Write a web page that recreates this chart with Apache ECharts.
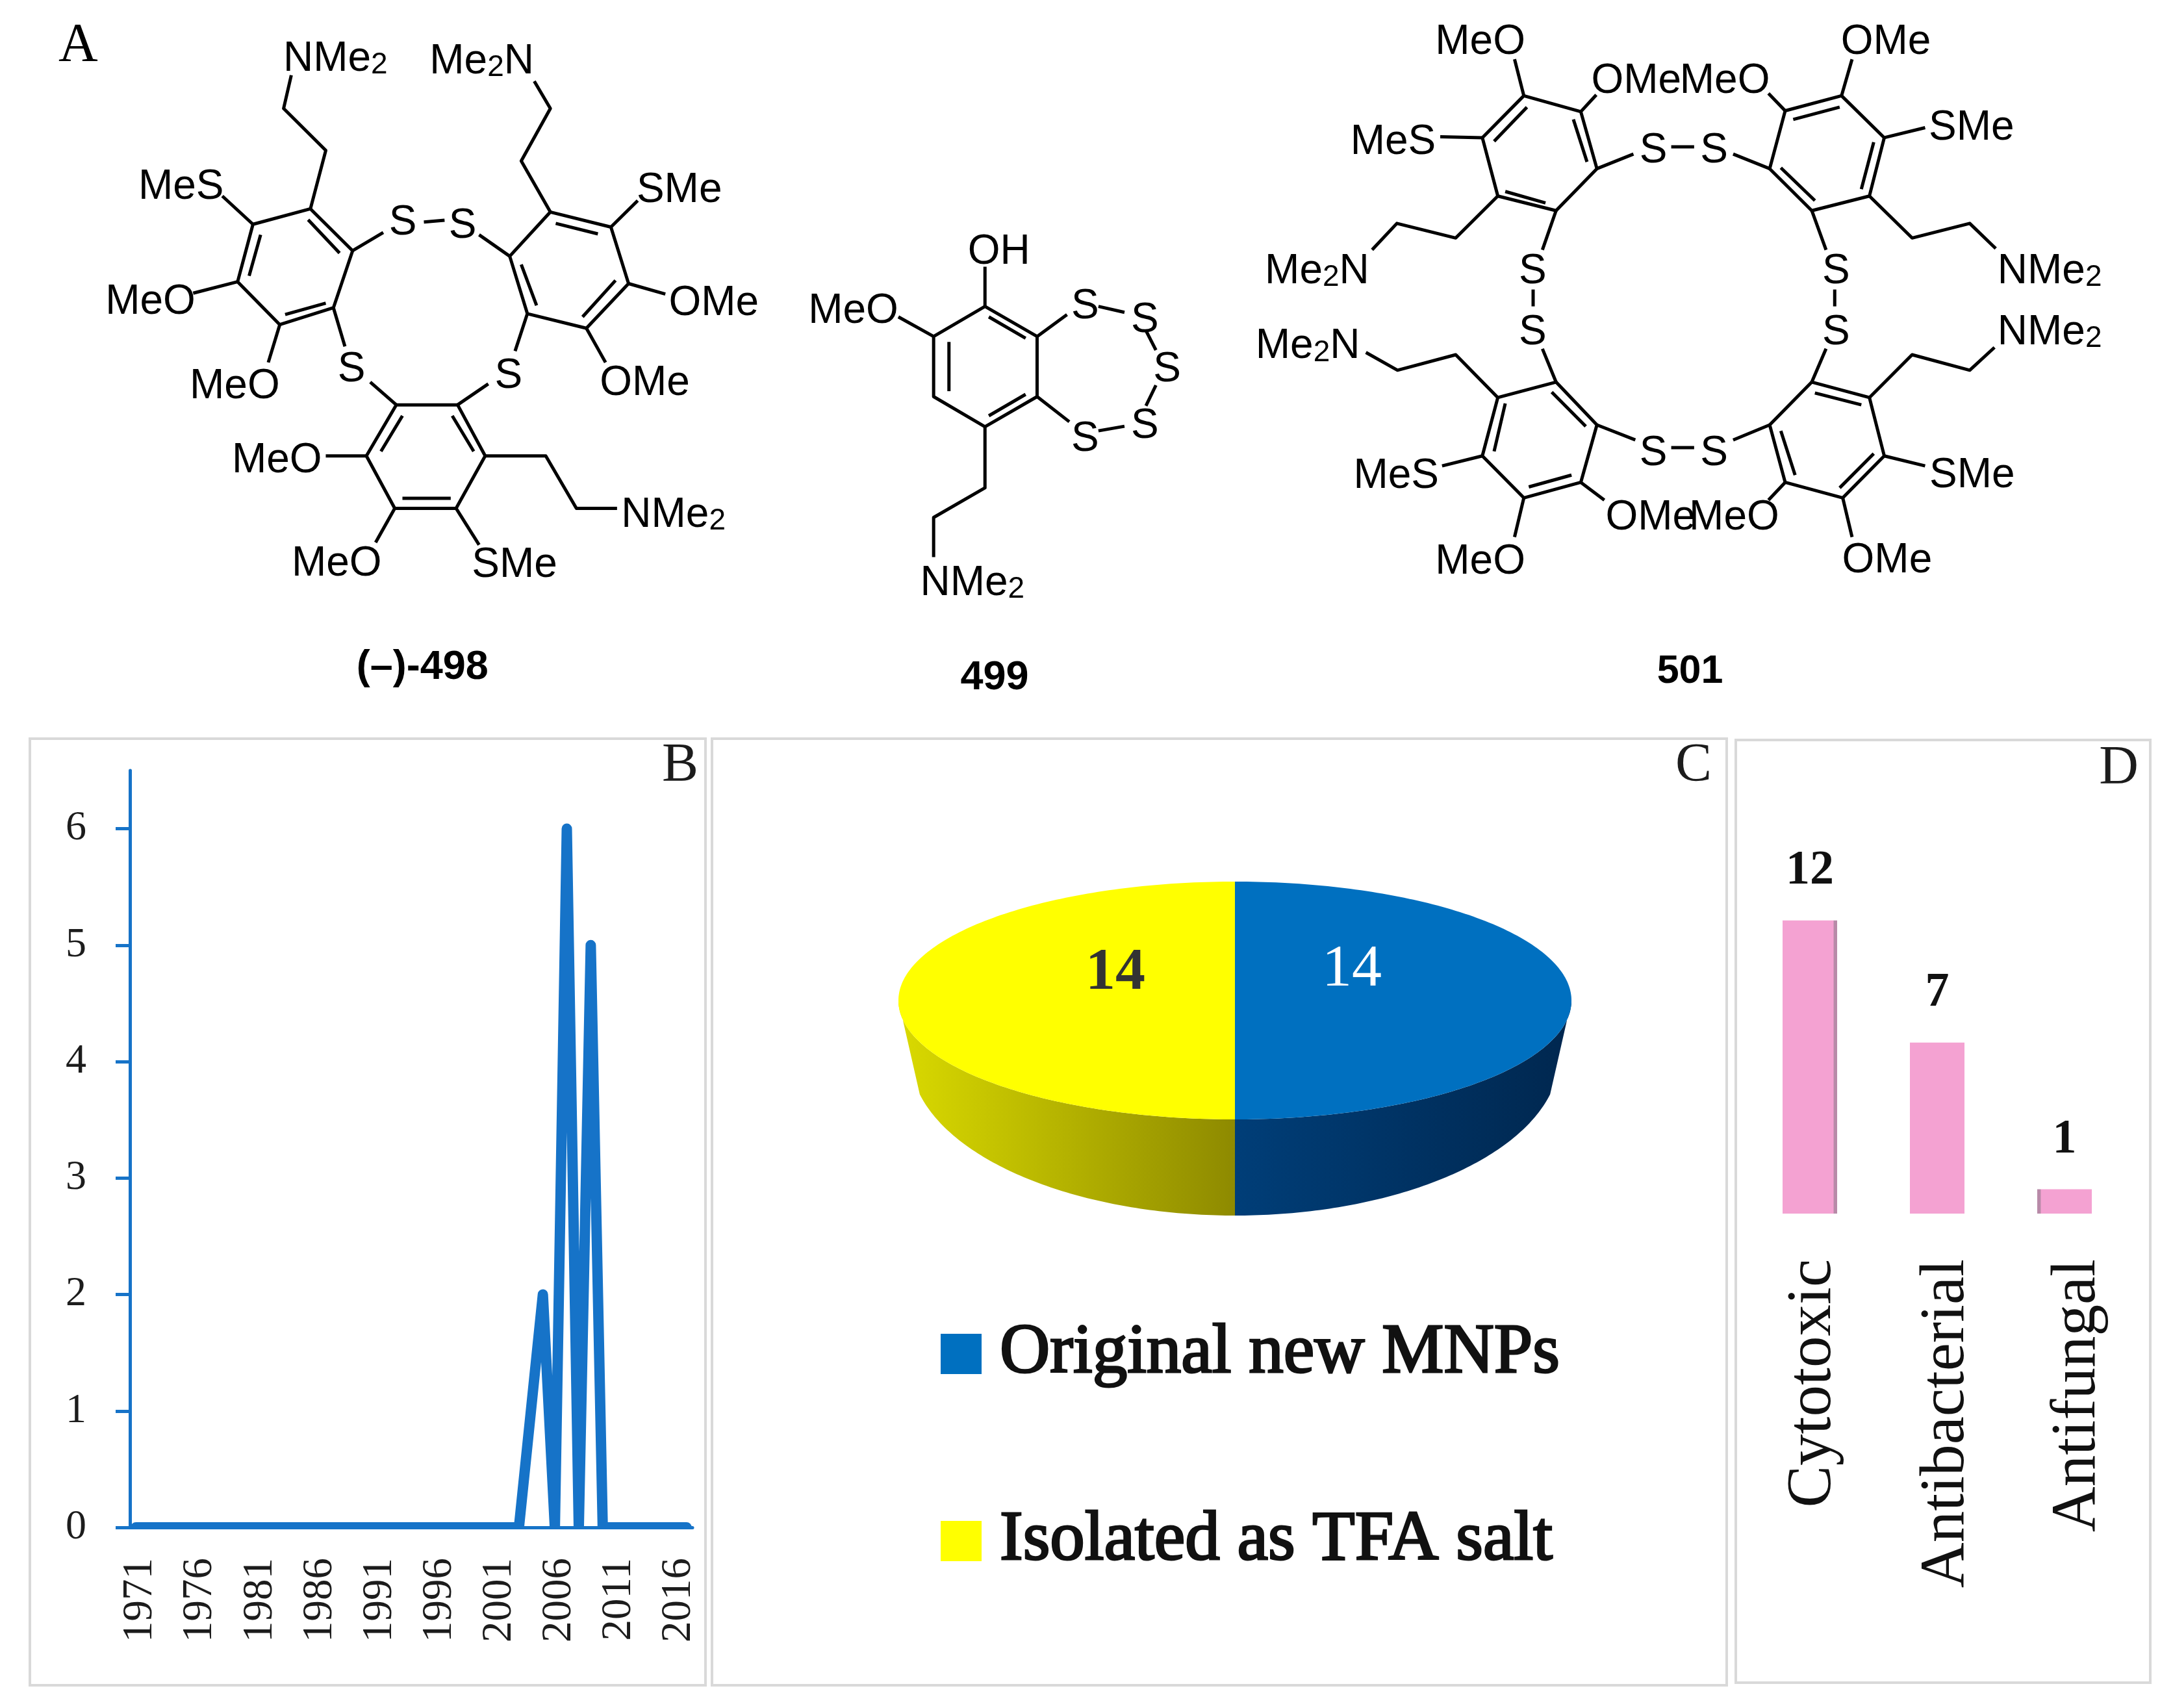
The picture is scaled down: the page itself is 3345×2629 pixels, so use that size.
<!DOCTYPE html>
<html><head><meta charset="utf-8">
<style>html,body{margin:0;padding:0;background:#fff}#c{width:3345px;height:2629px}</style>
<script src="https://cdn.jsdelivr.net/npm/echarts@6/dist/echarts.min.js"></script>
</head><body><div id="c"></div>
<script>
// ---- chart data ----
const years = [1971,1972,1973,1974,1975,1976,1977,1978,1979,1980,1981,1982,1983,1984,1985,1986,1987,1988,1989,1990,1991,1992,1993,1994,1995,1996,1997,1998,1999,2000,2001,2002,2003,2004,2005,2006,2007,2008,2009,2010,2011,2012,2013,2014,2015,2016,2017];
const yearCounts = [0,0,0,0,0,0,0,0,0,0,0,0,0,0,0,0,0,0,0,0,0,0,0,0,0,0,0,0,0,0,0,0,0,1,2,0,6,0,5,0,0,0,0,0,0,0,0];
const yearTicks = [0,1,2,3,4,5,6];
const pieCategories = ['Original new MNPs','Isolated as TFA salt'];
const pieValues = [14,14];
const activityCategories = ['Cytotoxic','Antibacterial','Antifungal'];
const activityValues = [12,7,1];

// ---- styles ----
const SERIF='"Liberation Serif"', SANS='"Liberation Sans"';
const BLUE='#1673C8', PINK='#F4A2D2', INK='#1c1c1c';

// ---- panel A: structural formulas (zoom-space drawing coordinates) ----
const m4=p=>[p[0]/0.8475,p[1]/1.425];
const m5=p=>[p[0]/1.049+1850,p[1]/1.425];
const bonds498=[
 [[380,165],[370,238],[425,330],[405,458]],
 [[405,458],[330,492],[310,618],[365,712],[435,675],[460,550],[405,458]],
 [[402,482],[443,555]],[[340,515],[325,605]],[[372,690],[425,665]],
 [[290,430],[330,492]],[[252,643],[310,618]],[[350,795],[365,712]],
 [[460,550],[500,510]],[[553,487],[580,483]],[[625,515],[665,562]],
 [[665,562],[718,465],[797,498],[820,622],[765,720],[688,688],[665,562]],
 [[725,490],[780,513]],[[803,615],[760,695]],[[680,580],[700,670]],
 [[718,465],[680,353],[718,238],[697,178]],
 [[797,498],[832,440]],[[820,622],[868,645]],[[765,720],[790,795]],
 [[435,675],[450,760]],[[688,688],[672,770]],[[483,838],[517,888]],[[637,842],[597,888]],
 [[517,888],[597,888],[633,1000],[595,1115],[515,1115],[478,1000],[517,888]],
 [[525,912],[497,990]],[[590,912],[618,990]],[[525,1093],[588,1093]],
 [[478,1000],[425,1000]],[[515,1115],[490,1190]],[[595,1115],[625,1195]],
 [[633,1000],[712,1000],[752,1115],[805,1115]]
];
const labels498=[
 ['{b|NMe}{s|2}',372,125],['{b|Me}{s|2}{b|N}',563,130],['MeS',183,405],['SMe',833,413],['MeO',140,657],['OMe',875,660],
 ['MeO',250,843],['OMe',785,835],['S',510,483],['S',588,490],['S',443,805],['S',648,820],
 ['MeO',305,1005],['{b|NMe}{s|2}',813,1125],['MeO',383,1232],['SMe',618,1235]
];
const bonds499=[
 [[1285,672],[1353,738],[1353,870],[1285,936],[1218,870],[1218,738],[1285,672]],
 [[1290,695],[1338,742]],[[1338,865],[1290,912]],[[1238,750],[1238,858]],
 [[1285,672],[1285,585]],[[1218,738],[1172,695]],[[1353,738],[1392,690]],[[1353,870],[1395,925]],
 [[1433,672],[1467,685]],[[1495,725],[1508,768]],[[1508,845],[1495,890]],[[1467,935],[1433,945]],
 [[1285,936],[1285,1070],[1218,1135],[1218,1222]]
];
const labels499=[
 ['OH',1265,548],['MeO',1057,678],['S',1400,668],['S',1478,698],['S',1507,805],['S',1478,930],['S',1400,958],['{b|NMe}{s|2}',1203,1275]
];
const bonds501=[
 [[520,210],[612,245],[638,370],[572,462],[478,430],[453,302],[520,210]],
 [[525,235],[472,310]],[[600,262],[622,355]],[[555,445],[490,420]],
 [[520,210],[505,130]],[[612,245],[637,208]],[[453,302],[385,300]],
 [[478,430],[410,522],[315,490],[275,548]],[[638,370],[697,338]],[[572,462],[550,548]],
 [[758,322],[795,322]],
 [[942,243],[1033,210],[1102,302],[1078,430],[985,462],[917,370],[942,243]],
 [[955,262],[1030,235]],[[1085,312],[1065,415]],[[990,440],[935,368]],
 [[942,243],[915,205]],[[1033,210],[1050,130]],[[1102,302],[1168,280]],
 [[1078,430],[1147,522],[1240,490],[1282,545]],[[917,370],[858,338]],[[985,462],[1008,548]],
 [[535,635],[535,672]],[[1022,635],[1022,672]],
 [[572,838],[638,932],[612,1058],[520,1092],[453,1000],[478,872],[572,838]],
 [[565,860],[620,935]],[[597,1042],[528,1068]],[[472,990],[490,885]],
 [[550,765],[572,838]],[[638,932],[700,965]],[[478,872],[410,778],[316,812],[265,773]],
 [[453,1000],[388,1022]],[[612,1058],[650,1097]],[[520,1092],[505,1178]],
 [[985,838],[1078,872],[1102,1000],[1035,1092],[942,1058],[917,932],[985,838]],
 [[990,862],[1065,888]],[[1085,995],[1030,1070]],[[958,1042],[935,945]],
 [[1008,765],[985,838]],[[917,932],[858,965]],[[1078,872],[1147,778],[1240,812],[1280,762]],
 [[1102,1000],[1168,1022]],[[942,1058],[915,1097]],[[1035,1092],[1050,1178]],
 [[758,982],[795,982]]
];
const labels501=[
 ['MeO',380,88],['OMe',632,173],['MeO',775,173],['OMe',1035,88],['MeS',243,307],['SMe',1177,275],
 ['S',710,325],['S',808,325],['{b|Me}{s|2}{b|N}',105,590],['{b|NMe}{s|2}',1288,590],['S',515,590],['S',1005,590],
 ['S',515,725],['S',1005,725],['{b|Me}{s|2}{b|N}',90,755],['{b|NMe}{s|2}',1288,725],['S',710,990],['S',808,990],
 ['MeS',248,1040],['SMe',1178,1038],['OMe',655,1130],['MeO',790,1130],['MeO',380,1228],['OMe',1037,1225]
];

const gfx=[];
function frame(x,y,w,h){gfx.push({type:'rect',z:0,shape:{x,y,width:w,height:h},style:{fill:'none',stroke:'#d9d9d9',lineWidth:4}});}
function text(t,x,y,font,fill,align){gfx.push({type:'text',z:6,style:{text:t,x,y,font,fill:fill||'#000',align:align||'left',verticalAlign:'middle'}});}
const formulaRich={
  b:{fontFamily:'Liberation Sans',fontSize:64,lineHeight:64,fill:'#000',verticalAlign:'middle'},
  s:{fontFamily:'Liberation Sans',fontSize:46,lineHeight:30,fill:'#000',verticalAlign:'bottom'}
};
function draw(bonds,labels,map){
  bonds.forEach(b=>gfx.push({type:'polyline',z:6,shape:{points:b.map(map)},style:{fill:'none',stroke:'#000',lineWidth:5,lineJoin:'round'}}));
  labels.forEach(l=>{const p=map([l[1],l[2]]);
    if(l[0].indexOf('{')===0){
      gfx.push({type:'text',z:6,style:{text:l[0],x:p[0]-3,y:p[1]+4,rich:formulaRich,align:'left',verticalAlign:'middle',fill:'#000'}});
    } else text(l[0],p[0]-3,p[1]+4,'64px '+SANS);
  });
}
frame(46,1137,1040,1457);frame(1096,1137,1562,1457);frame(2672,1139,638,1451);
draw(bonds498,labels498,m4);draw(bonds499,labels499,m4);draw(bonds501,labels501,m5);
text('(–)-498',m4([465,0])[0],1028,'bold 63px '+SANS);
text('499',m4([1253,0])[0],1044,'bold 63px '+SANS);
text('501',m5([735,0])[0],1034,'bold 61px '+SANS);
text('A',90,72,'84px '+SERIF);
text('B',1075,1180,'84px '+SERIF,INK,'right');
text('C',2635,1180,'84px '+SERIF,INK,'right');
text('D',3292,1184,'84px '+SERIF,INK,'right');
// cover under the zero line: the source clips its line at the axis
gfx.push({type:'rect',z:3,shape:{x:190,y:2351,width:890,height:12},style:{fill:'#fff'}});

// ---- panel C: tilted pie drawn by custom series ----
const PIE={cx:1901,cy:1540,rx:518,ry:183,lcy:1625,lrx:500,lry:246};
const total=pieValues.reduce((a,b)=>a+b,0);
const rad=d=>d*Math.PI/180;
function topPt(t){return [PIE.cx+PIE.rx*Math.sin(rad(t)),PIE.cy-PIE.ry*Math.cos(rad(t))];}
function lowPt(t){const f=t<=180?104+(t-90)*76/90:256-(270-t)*76/90;
  return [PIE.cx+PIE.lrx*Math.sin(rad(f)),PIE.lcy-PIE.lry*Math.cos(rad(f))];}
const pieStyle=[
 {color:'#0070C0',wall:['#003E78','#00274F'],label:'#fff',labelDx:180,labelDy:-47,weight:''},
 {color:'#FFFF00',wall:['#DADA00','#8E8A00'],label:'#333',labelDx:-184,labelDy:-42,weight:'bold '}
];
function pieSeries(i){
  const before=pieValues.slice(0,i).reduce((a,b)=>a+b,0);
  return {type:'custom',name:pieCategories[i],coordinateSystem:'none',data:[[pieValues[i]]],
    itemStyle:{color:pieStyle[i].color},z:2,
    renderItem(params,api){
      const v=api.value(0),a0=before/total*360,a1=(before+v)/total*360,st=pieStyle[i];
      const top=[[PIE.cx,PIE.cy]];
      for(let t=a0;t<=a1+1e-6;t+=1)top.push(topPt(t));
      const lo=Math.max(a0,90),hi=Math.min(a1,270),up=[],dn=[];
      for(let t=lo;t<=hi+1e-6;t+=1){up.push(topPt(t));dn.push(lowPt(t));}
      return {type:'group',children:[
        {type:'polygon',shape:{points:up.concat(dn.reverse())},
         style:{fill:{type:'linear',x:0,y:0,x2:1,y2:0,colorStops:[{offset:0,color:st.wall[0]},{offset:1,color:st.wall[1]}]}}},
        {type:'polygon',shape:{points:top},style:{fill:st.color}},
        {type:'text',style:{text:String(v),x:PIE.cx+st.labelDx,y:PIE.cy+st.labelDy,font:st.weight+'92px '+SERIF,fill:st.label,align:'center',verticalAlign:'middle'}}
      ]};
    }};
}

// shaded edge of the bars
const EDGE='#B88AA8';
const barFills=[
 {type:'linear',x:0,y:0,x2:1,y2:0,colorStops:[{offset:0,color:PINK},{offset:0.93,color:PINK},{offset:0.94,color:EDGE},{offset:1,color:EDGE}]},
 PINK,
 {type:'linear',x:0,y:0,x2:1,y2:0,colorStops:[{offset:0,color:EDGE},{offset:0.06,color:EDGE},{offset:0.07,color:PINK},{offset:1,color:PINK}]}
];
const labelRich={};
[12,30,42].forEach((p,i)=>{labelRich['c'+i]={fontFamily:'Liberation Serif',fontSize:97,color:'#111',padding:[p,0,0,0]};});

const option={
 backgroundColor:'#fff',animation:false,
 graphic:{elements:gfx},
 legend:{show:true,orient:'vertical',left:1448,top:2029,padding:0,itemWidth:63,itemHeight:62,itemGap:178,icon:'rect',
   data:pieCategories,selectedMode:false,
   textStyle:{fontFamily:SERIF,fontSize:107,color:'#111',padding:[4,0,0,23],textBorderColor:'#111',textBorderWidth:3}},
 grid:[
  {left:200,top:1186,width:866,height:1165,containLabel:false},
  {left:2688,width:588,top:1341.6,height:526.4,containLabel:false}
 ],
 xAxis:[
  {type:'category',gridIndex:0,data:years,z:5,boundaryGap:true,
   axisLine:{lineStyle:{color:BLUE,width:5}},
   axisTick:{interval:4,length:22,lineStyle:{color:BLUE,width:5}},
   axisLabel:{interval:4,rotate:90,margin:47,hideOverlap:false,
     formatter:v=>'{y|'+v+'}',
     rich:{y:{fontFamily:'Liberation Serif',fontSize:65,color:INK,padding:[14,0,0,0]}}}},
  {type:'category',gridIndex:1,data:activityCategories,
   axisLine:{show:false},axisTick:{show:false},
   axisLabel:{interval:0,rotate:90,margin:70,fontFamily:SERIF,fontSize:97,color:'#111',
     formatter:(v,i)=>'{c'+i+'|'+v+'}',rich:labelRich}}
 ],
 yAxis:[
  {type:'value',gridIndex:0,min:0,max:6.5,z:5,splitLine:{show:false},
   axisLine:{show:true,lineStyle:{color:BLUE,width:5}},
   axisTick:{show:true,length:22,customValues:yearTicks,lineStyle:{color:BLUE,width:5}},
   axisLabel:{customValues:yearTicks,margin:67,fontFamily:SERIF,fontSize:64,color:INK}},
  {type:'value',gridIndex:1,min:0,max:14,show:false,splitLine:{show:false}}
 ],
 series:[
  {type:'line',name:'Compounds per year',xAxisIndex:0,yAxisIndex:0,data:yearCounts,symbol:'none',z:2,
   lineStyle:{color:BLUE,width:16,cap:'round',join:'round'}},
  {type:'bar',name:'Activity',xAxisIndex:1,yAxisIndex:1,barWidth:84,
   data:activityValues.map((v,i)=>({value:v,itemStyle:{color:barFills[i]}})),
   label:{show:true,position:'top',distance:39,fontFamily:SERIF,fontWeight:'bold',fontSize:74,color:'#111'}},
  pieSeries(0),pieSeries(1)
 ]
};
const chart=echarts.init(document.getElementById('c'),null,{renderer:'canvas',width:3345,height:2629});
chart.setOption(option);
</script></body></html>
